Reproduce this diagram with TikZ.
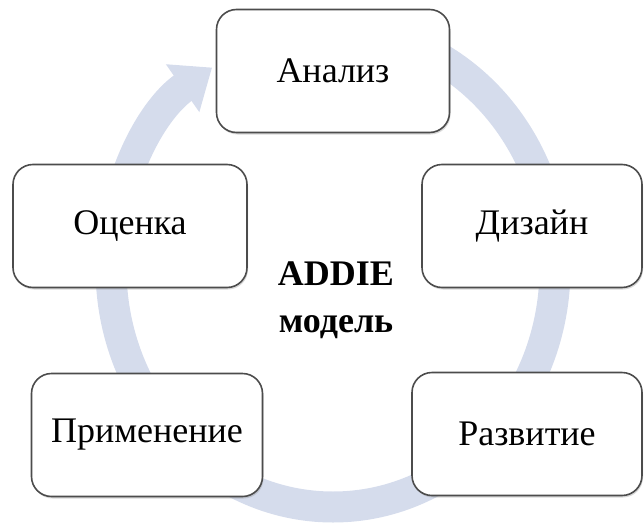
\documentclass[tikz,border=0pt]{standalone}
\usepackage{fontspec}
\setmainfont{Liberation Serif}
\usetikzlibrary{arrows.meta,shadows}
\definecolor{ringblue}{RGB}{213,220,236}

\begin{document}
\begin{tikzpicture}[x=1pt, y=-1pt,
  stage/.style={draw=black!70, line width=1.6pt, rounded corners=20pt, fill=white,
    minimum width=231pt, minimum height=123pt, font=\fontsize{36}{40}\selectfont,
    drop shadow={shadow xshift=1pt, shadow yshift=-2pt, opacity=0.3}}]
\useasboundingbox (0, 0) rectangle (644, 524);

\coordinate (mid) at (333, 268);
\draw [line width=31pt, ringblue, -{Triangle[width=56pt, length=36pt]}] (mid) ++(270:222 and 239) arc [start angle=270, end angle=597, x radius=222, y radius=239];

\node [stage, minimum width=233pt] (analiz) at (333, 71) {Анализ};
\node [stage, minimum width=220pt] (dizain) at (532, 226) {Дизайн};
\node [stage, minimum width=230pt] (razvitie) at (527, 434) {Развитие};
\node [stage] (primenenie) at (147, 435) {Применение};
\node [stage, minimum width=234pt] (ocenka) at (130, 226) {Оценка};

\node [font=\bfseries\fontsize{36}{47}\selectfont, align=center] (addie) at (336, 300) {ADDIE\\модель};
\end{tikzpicture}
\end{document}
